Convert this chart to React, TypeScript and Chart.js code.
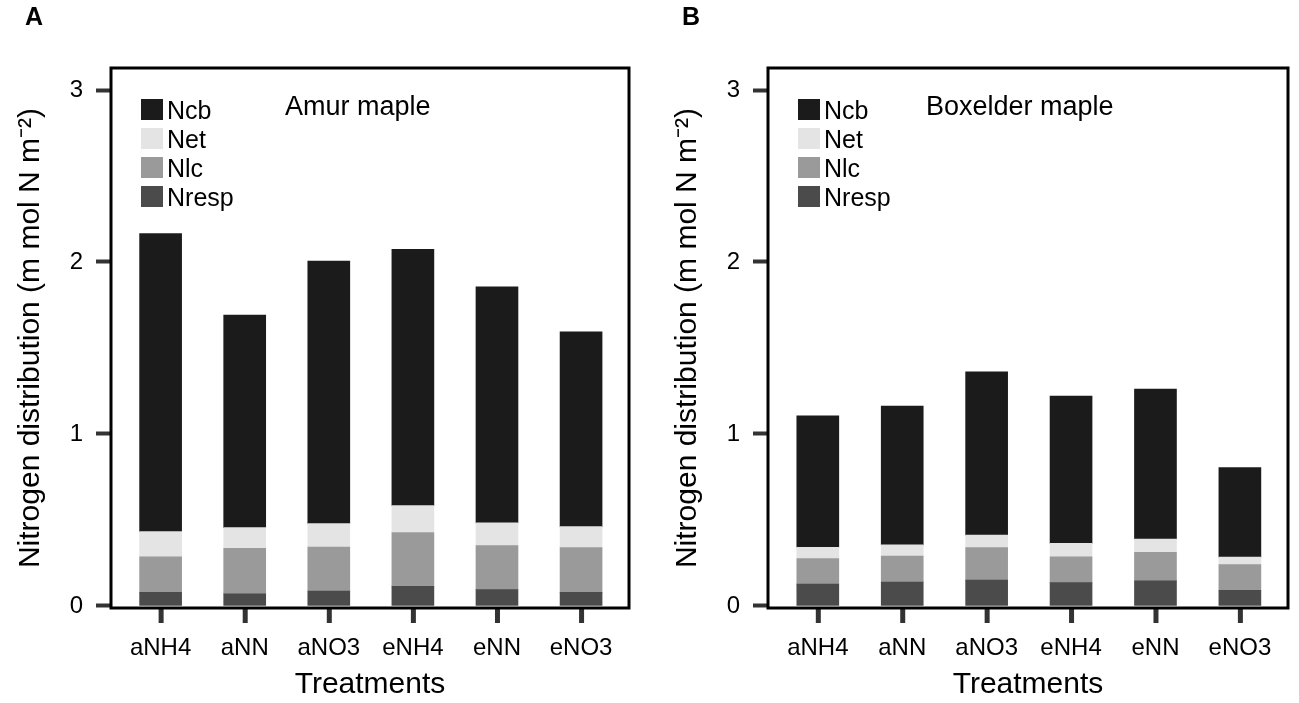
import React, { useEffect, useRef } from 'react';
import { Chart, registerables, ChartConfiguration, Plugin } from 'chart.js';

Chart.register(...registerables);

const FONT = '"Liberation Sans", Arial, Helvetica, sans-serif';
Chart.defaults.font.family = FONT;
Chart.defaults.color = '#000';

const treatments = ['aNH4', 'aNN', 'aNO3', 'eNH4', 'eNN', 'eNO3'];
const yTicks = [0, 1, 2, 3];

const seriesNames = ['Nresp', 'Nlc', 'Net', 'Ncb'];
const seriesColors = ['#4b4b4b', '#9a9a9a', '#e4e4e4', '#1b1b1b'];

// Amur maple (stack segments, bottom to top)
const amurNresp = [0.079, 0.070, 0.087, 0.114, 0.095, 0.079];
const amurNlc = [0.206, 0.265, 0.255, 0.313, 0.256, 0.260];
const amurNet = [0.147, 0.120, 0.137, 0.156, 0.132, 0.122];
const amurNcb = [1.733, 1.236, 1.527, 1.491, 1.373, 1.133];

// Boxelder maple
const boxNresp = [0.127, 0.138, 0.150, 0.136, 0.146, 0.091];
const boxNlc = [0.149, 0.152, 0.190, 0.150, 0.165, 0.149];
const boxNet = [0.065, 0.065, 0.072, 0.078, 0.078, 0.044];
const boxNcb = [0.764, 0.807, 0.950, 0.856, 0.872, 0.521];

// box around plot, x tick marks, inside legend, species name, panel letter
const decorations: Plugin = {
  id: 'decorations',
  afterDraw(chart, _args, opts: any) {
    const { ctx, chartArea: a } = chart;
    ctx.save();

    // tick marks under the x axis, one under each bar centre
    const bars = chart.getDatasetMeta(0).data;
    ctx.fillStyle = '#333333';
    bars.forEach((el: any) => {
      ctx.fillRect(el.x - 2, a.bottom, 5, 15);
    });

    ctx.strokeStyle = '#000';
    ctx.lineWidth = 3;
    ctx.strokeRect(a.left, a.top, a.width, a.height);

    ctx.textAlign = 'left';
    ctx.textBaseline = 'alphabetic';
    ctx.font = `25px ${FONT}`;
    const ds = chart.data.datasets.slice().reverse();
    ds.forEach((d, i) => {
      const y = a.top + 31 + i * 29;
      ctx.fillStyle = d.backgroundColor as string;
      ctx.fillRect(a.left + 30, y, 22, 21);
      ctx.fillStyle = '#000';
      ctx.fillText(String(d.label), a.left + 56, y + 20);
    });

    ctx.font = `27px ${FONT}`;
    ctx.fillText(opts.species, a.left + opts.speciesOffset, a.top + 47);

    ctx.font = `bold 25px ${FONT}`;
    ctx.fillText(opts.letter, a.left - 86, 25);
    ctx.restore();
  },
};

interface PanelProps {
  letter: string;
  species: string;
  speciesOffset: number;
  series: number[][];
  width: number;
  yAxisWidth: number;
  padRight: number;
  yTitlePad: number;
}

const Panel: React.FC<PanelProps> = ({ letter, species, speciesOffset, series, width, yAxisWidth, padRight, yTitlePad }) => {
  const canvasRef = useRef<HTMLCanvasElement | null>(null);

  useEffect(() => {
    if (!canvasRef.current) return;

    const config: ChartConfiguration<'bar'> = {
      type: 'bar',
      data: {
        datasets: series.map((vals, k) => ({
          label: seriesNames[k],
          data: vals.map((v, i) => ({ x: i + 1, y: v })),
          backgroundColor: seriesColors[k],
          borderWidth: 0,
          barThickness: 42,
        })) as any,
      },
      options: {
        responsive: false,
        animation: false,
        layout: { padding: { top: 68, right: padRight, bottom: 0, left: 0 } },
        plugins: {
          legend: { display: false },
          tooltip: { enabled: false },
          decorations: { letter, species, speciesOffset },
        } as any,
        scales: {
          x: {
            type: 'linear',
            stacked: true,
            offset: false,
            min: 0.41,
            max: 6.57,
            afterBuildTicks: (scale: any) => {
              scale.ticks = treatments.map((_, i) => ({ value: i + 1 }));
            },
            afterFit: (scale: any) => {
              scale.height = 95;
            },
            ticks: {
              autoSkip: false,
              maxRotation: 0,
              padding: 12,
              font: { size: 24 },
              color: '#000',
              callback: (v: any) => treatments[Math.round(Number(v)) - 1],
            },
            grid: {
              display: false,
              offset: false,
              drawOnChartArea: false,
              drawTicks: true,
              tickLength: 14,
            },
            border: { display: false },
            title: {
              display: true,
              text: 'Treatments',
              font: { size: 30 },
              color: '#000',
              padding: { top: 0, bottom: 0 },
            },
          },
          y: {
            type: 'linear',
            stacked: true,
            min: -0.012,
            max: 3.128,
            afterBuildTicks: (scale: any) => {
              scale.ticks = yTicks.map(v => ({ value: v }));
            },
            afterFit: (scale: any) => {
              scale.width = yAxisWidth;
            },
            ticks: {
              padding: 13,
              font: { size: 24 },
              color: '#000',
              callback: (v: any) => String(v),
            },
            grid: {
              drawOnChartArea: false,
              drawTicks: true,
              tickLength: 15,
              tickWidth: 4,
              tickColor: '#333',
            },
            border: { display: false },
            title: {
              display: true,
              text: 'Nitrogen distribution (m mol N m\u207B\u00B2)',
              font: { size: 30 },
              color: '#000',
              padding: { top: yTitlePad, bottom: 0 },
            },
          },
        },
      },
      plugins: [decorations],
    };

    const chart = new Chart(canvasRef.current, config);
    return () => {
      chart.destroy();
    };
  }, [letter, species, speciesOffset, series, width, yAxisWidth, padRight, yTitlePad]);

  return <canvas ref={canvasRef} width={width} height={703} style={{ display: 'block' }} />;
};

const amurSeries = [amurNresp, amurNlc, amurNet, amurNcb];
const boxSeries = [boxNresp, boxNlc, boxNet, boxNcb];

export default function App() {
  return (
    <div style={{ position: 'absolute', left: 0, top: 0, width: 1299, height: 703, background: '#fff' }}>
      <div style={{ position: 'absolute', left: 0, top: 0 }}>
        <Panel
          letter="A"
          species="Amur maple"
          speciesOffset={174}
          series={amurSeries}
          width={650}
          yAxisWidth={111}
          padRight={21}
          yTitlePad={13}
        />
      </div>
      <div style={{ position: 'absolute', left: 650, top: 0 }}>
        <Panel
          letter="B"
          species="Boxelder maple"
          speciesOffset={158}
          series={boxSeries}
          width={649}
          yAxisWidth={118}
          padRight={11}
          yTitlePad={20}
        />
      </div>
    </div>
  );
}
